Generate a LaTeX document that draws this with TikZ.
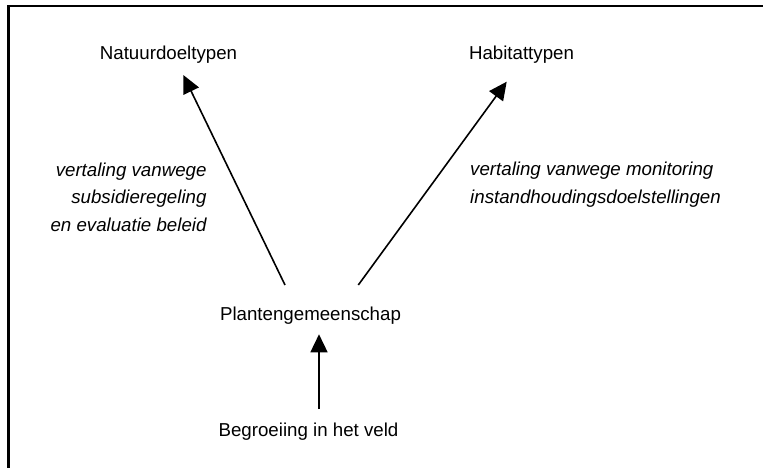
\documentclass[tikz,border=0pt]{standalone}
\usepackage{fontspec}
\setmainfont{Liberation Sans}
\usetikzlibrary{arrows.meta}
\begin{document}
\begin{tikzpicture}[x=1pt,y=-1pt,
  lbl/.style={inner sep=0pt,font=\fontsize{18.7}{27.7}\selectfont},
  ital/.style={lbl,font=\fontsize{18.7}{27.7}\selectfont\itshape},
  arr/.style={line width=1.6pt,-{Triangle[length=18pt,width=17pt]}}]
\useasboundingbox (0,0) rectangle (763,468);
\clip (0,0) rectangle (763,468);
\draw[line width=2.7pt] (770,6) -- (8.3,6) -- (8.3,475);
\node[lbl,anchor=base] (natuur) at (168.5,60) {Natuurdoeltypen};
\node[lbl,anchor=base] (habitat) at (521.5,60) {Habitattypen};
\node[lbl,anchor=base] (plant) at (310.5,320.7) {Plantengemeenschap};
\node[lbl,anchor=base] (begr) at (308.5,436.7) {Begroeiing in het veld};
\node[ital,anchor=north east,align=right] (lab1) at (206.7,162.3) {vertaling vanwege\\subsidieregeling\\en evaluatie beleid};
\node[ital,anchor=north west,align=left] (lab2) at (470,161.6) {vertaling vanwege monitoring\\instandhoudingsdoelstellingen};
\coordinate (p1) at (285,285);
\coordinate (n1) at (183.3,75);
\coordinate (p2) at (358.3,285);
\coordinate (h1) at (506.7,81.7);
\coordinate (b1) at (319,409);
\coordinate (p3) at (319,334.3);
\draw[arr] (p1) -- (n1);
\draw[arr] (p2) -- (h1);
\draw[arr] (b1) -- (p3);
\end{tikzpicture}
\end{document}
